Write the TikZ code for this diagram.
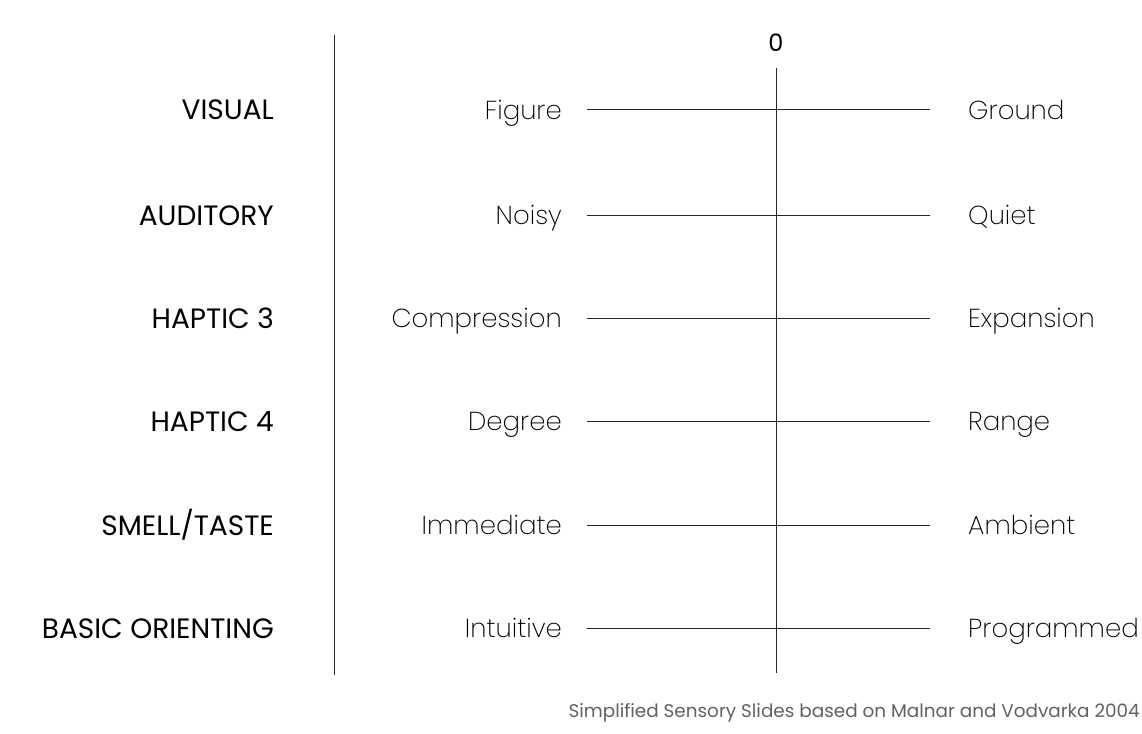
\documentclass[tikz,border=0pt]{standalone}
\usepackage{fontspec}
\setmainfont{Poppins}
\newfontfamily\lightfont{Poppins ExtraLight}
\begin{document}
\begin{tikzpicture}[x=1pt,y=-1pt,
  rule/.style={draw=black!85,line width=1pt},
  category/.style={anchor=base east,inner sep=0pt,font=\fontsize{28}{32}\selectfont},
  pole/.style={inner sep=0pt,font=\lightfont\fontsize{26}{30}\selectfont},
  leftpole/.style={pole,anchor=base east},
  rightpole/.style={pole,anchor=base west}]
\useasboundingbox (0,0) rectangle (1142,733);
% vertical dividers
\coordinate (divtop) at (334,35);
\coordinate (divbot) at (334,675);
\draw[rule] (divtop) -- (divbot);
\node[anchor=base,inner sep=0pt,font=\fontsize{24}{28}\selectfont] (zero) at (776,52) {0};
\coordinate (axtop) at (776,68);
\coordinate (axbot) at (776,673);
\draw[rule] (axtop) -- (axbot);
% rows of scales
\foreach \y/\cat/\lo/\hi [count=\i] in {
  110/VISUAL/Figure/Ground,
  215/AUDITORY/Noisy/Quiet,
  318/HAPTIC 3/Compression/Expansion,
  421/HAPTIC 4/Degree/Range,
  525/SMELL\slash TASTE/Immediate/Ambient,
  628/BASIC ORIENTING/Intuitive/Programmed}{
  \node[category] (cat\i) at (274,\y+10) {\cat};
  \node[leftpole] (lo\i) at (562,\y+9.5) {\lo};
  \node[rightpole] (hi\i) at (968,\y+9.5) {\hi};
  \coordinate (ls\i) at (587,\y);
  \coordinate (le\i) at (930,\y);
  \draw[rule] (ls\i) -- (le\i);
}
\node[anchor=base east,inner sep=0pt,text=black!62,font=\fontsize{18.4}{22}\selectfont] (caption) at (1140,717) {Simplified Sensory Slides based on Malnar and Vodvarka 2004};
\end{tikzpicture}
\end{document}
